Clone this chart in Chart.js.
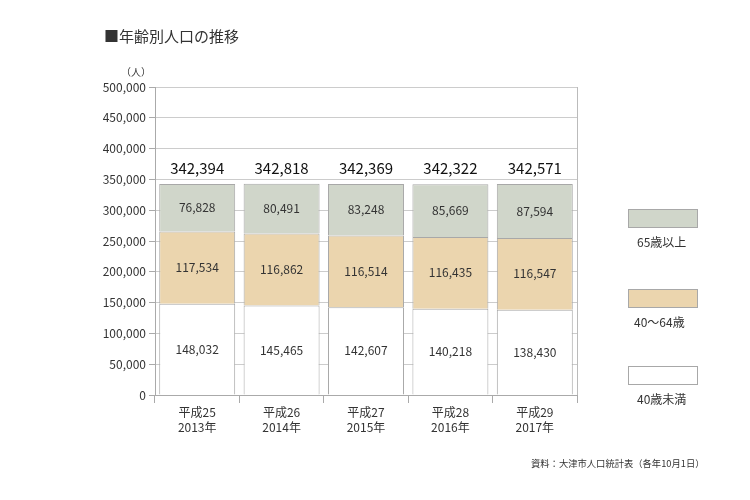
<!DOCTYPE html>
<html>
<head>
<meta charset="utf-8">
<script src="https://cdn.jsdelivr.net/npm/chart.js@4"></script>
<style>
  body { margin: 0; background: #fff; font-family: "Noto Sans CJK JP", sans-serif; color: #333; }
  #wrap { position: relative; width: 750px; height: 500px; }
  .txt { position: absolute; white-space: nowrap; line-height: 1; }
  .box { position: absolute; width: 68px; height: 17px; border: 1px solid #a8a8a8; }
</style>
</head>
<body>
<div id="wrap">
  <canvas id="myChart" width="750" height="500"></canvas>
  <div class="txt" style="left:104px;top:28px;font-size:15px;">■年齢別人口の推移</div>
  <div class="txt" style="left:121px;top:67px;font-size:10px;">（人）</div>
  <div class="box" style="left:628px;top:209px;background:#d0d6ca;"></div>
  <div class="txt" style="left:637px;top:236px;font-size:12px;">65歳以上</div>
  <div class="box" style="left:628px;top:289px;background:#ebd5ae;"></div>
  <div class="txt" style="left:634px;top:316px;font-size:12px;">40～64歳</div>
  <div class="box" style="left:628px;top:366px;background:#fff;"></div>
  <div class="txt" style="left:637px;top:393px;font-size:12px;">40歳未満</div>
  <div class="txt" style="left:531px;top:459px;font-size:9.3px;">資料：大津市人口統計表（各年10月1日）</div>
</div>
<script>
const ctx = document.getElementById('myChart');

const yearLabels = [['平成25', '2013年'], ['平成26', '2014年'], ['平成27', '2015年'], ['平成28', '2016年'], ['平成29', '2017年']];
const under40 = [148032, 145465, 142607, 140218, 138430];
const age40to64 = [117534, 116862, 116514, 116435, 116547];
const over65 = [76828, 80491, 83248, 85669, 87594];

const fmt = v => v.toLocaleString('en-US');

// draws segment values and totals on the bars
const valueLabels = {
  id: 'valueLabels',
  afterDatasetsDraw(chart) {
    const c = chart.ctx;
    c.save();
    c.textAlign = 'center';
    c.textBaseline = 'middle';
    c.fillStyle = '#333';
    c.font = '12px "Noto Sans CJK JP"';
    chart.data.datasets.forEach((ds, di) => {
      chart.getDatasetMeta(di).data.forEach((bar, i) => {
        const mid = (bar.y + bar.base) / 2;
        c.fillText(fmt(ds.data[i]), bar.x, mid);
      });
    });
    const topMeta = chart.getDatasetMeta(chart.data.datasets.length - 1);
    c.font = '15px "Noto Sans CJK JP"';
    c.fillStyle = '#111';
    topMeta.data.forEach((bar, i) => {
      const total = under40[i] + age40to64[i] + over65[i];
      c.fillText(fmt(total), bar.x, bar.y - 16);
    });
    c.restore();
  }
};

const chart = new Chart(ctx, {
  type: 'bar',
  data: {
    labels: yearLabels,
    datasets: [
      { label: '40歳未満', data: under40, backgroundColor: '#ffffff', borderColor: '#a8a8a8', borderWidth: 1 },
      { label: '40～64歳', data: age40to64, backgroundColor: '#ebd5ae', borderColor: '#a8a8a8', borderWidth: 1 },
      { label: '65歳以上', data: over65, backgroundColor: '#d0d6ca', borderColor: '#a8a8a8', borderWidth: 1 },
    ],
  },
  options: {
    responsive: false,
    animation: false,
    layout: { padding: { left: 90, right: 173, top: 87, bottom: 55 } },
    datasets: { bar: { barPercentage: 0.9, categoryPercentage: 1 } },
    plugins: { legend: { display: false }, tooltip: { enabled: false } },
    scales: {
      x: {
        stacked: true,
        afterFit: s => { s.height = 50; },
        grid: {
          offset: true,
          color: c => (c.type === 'scale' ? '#bbbbbb' : 'rgba(0,0,0,0)'),
          tickColor: '#aaaaaa',
          tickLength: 8,
        },
        border: { color: '#aaaaaa' },
        ticks: { color: '#333', font: { family: 'Noto Sans CJK JP', size: 12, lineHeight: 1.25 }, padding: 2 },
      },
      y: {
        stacked: true,
        min: 0,
        max: 500000,
        afterFit: s => { s.width = 65; },
        ticks: {
          stepSize: 50000,
          color: '#333',
          padding: 3,
          font: { family: 'Noto Sans CJK JP', size: 12 },
          callback: v => fmt(v),
        },
        grid: { color: '#cccccc', tickLength: 6, tickColor: '#aaaaaa' },
        border: { color: '#aaaaaa' },
      },
    },
  },
  plugins: [valueLabels],
});
</script>
</body>
</html>
